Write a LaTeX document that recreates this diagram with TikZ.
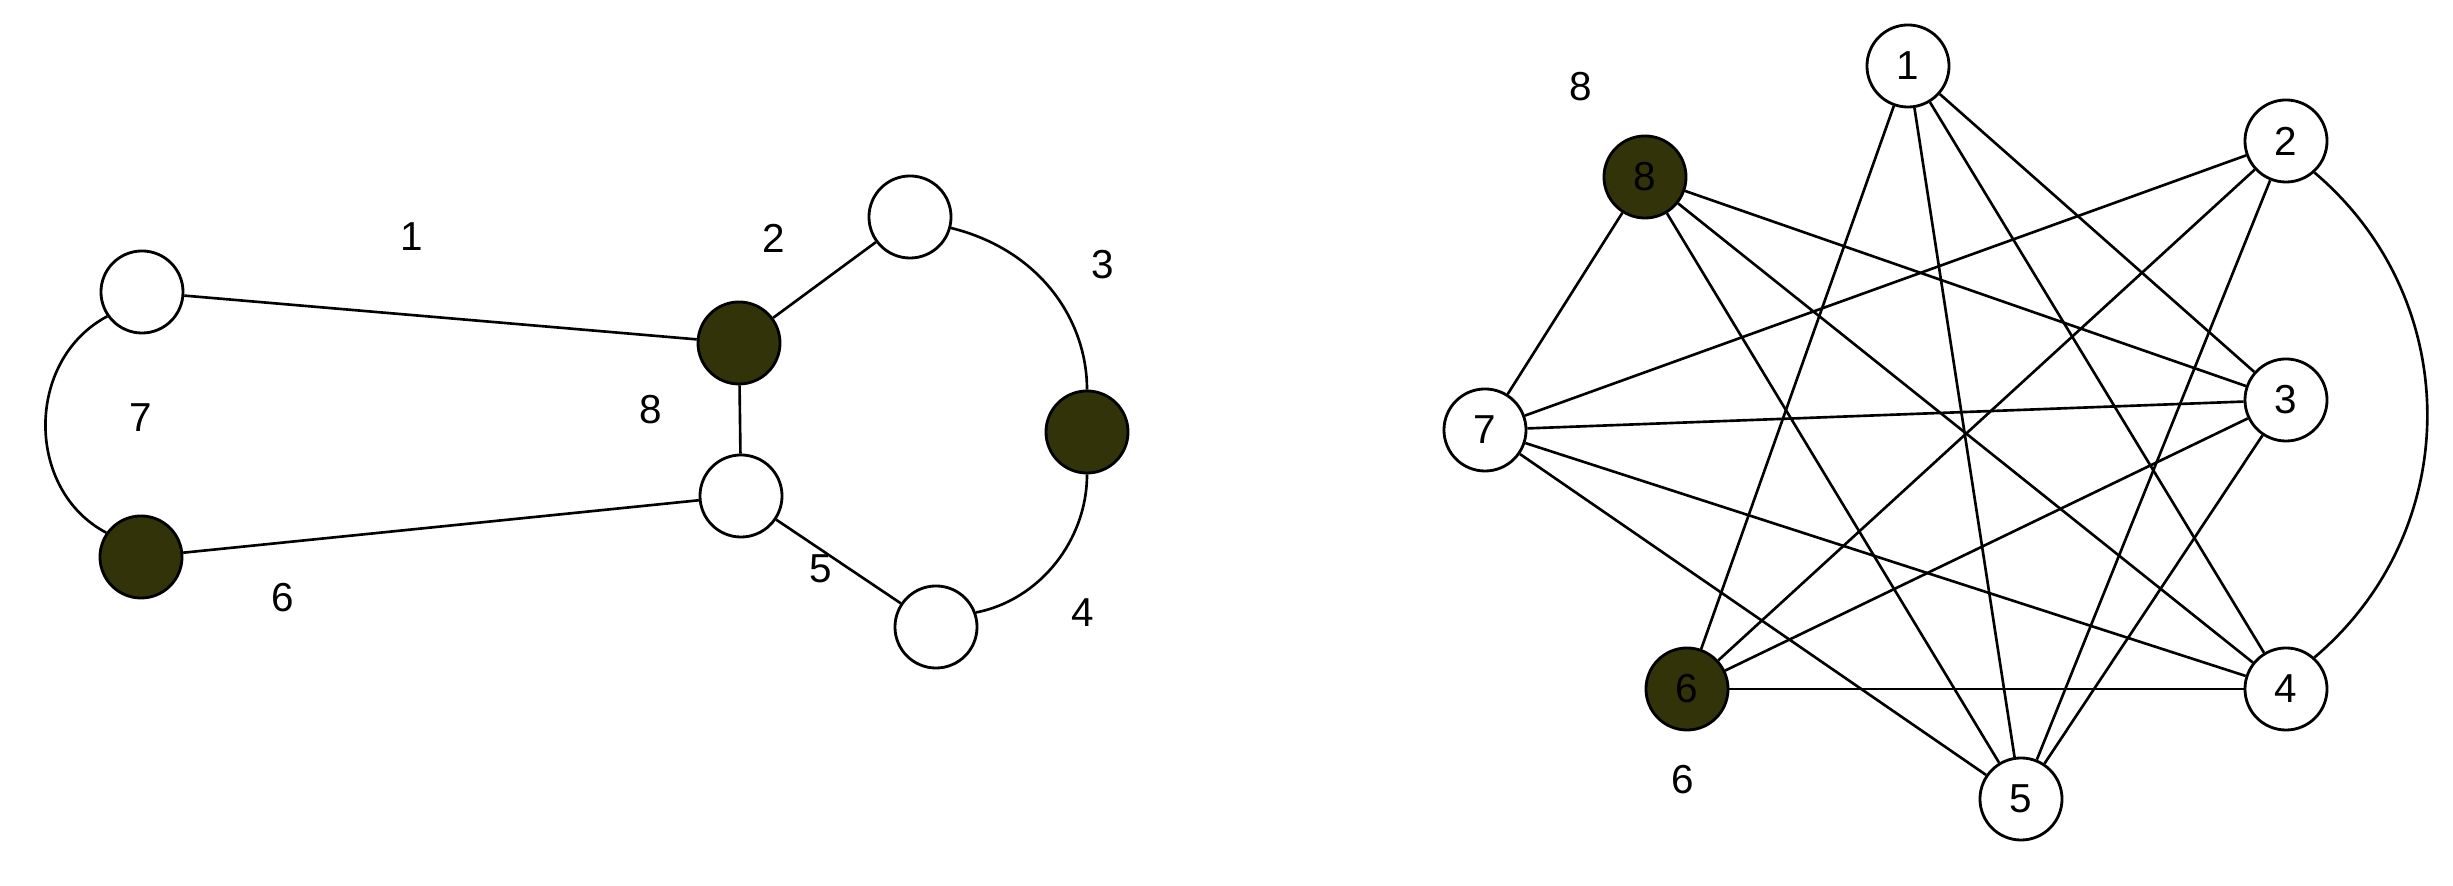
\documentclass[tikz,border=0pt]{standalone}
\usepackage{fontspec}
\setmainfont{Liberation Sans}
\definecolor{darkolive}{HTML}{33330A}
\begin{document}
\begin{tikzpicture}[x=0.01cm,y=-0.01cm,
  every node/.style={font=\fontsize{11.5}{13}\selectfont},
  vtx/.style={circle,draw,line width=0.8pt,minimum size=0.82cm,inner sep=0pt},
  filled/.style={vtx,fill=darkolive},
  edge/.style={line width=0.75pt},
  lbl/.style={inner sep=0pt}]
\useasboundingbox (0,0) rectangle (2453,886);
% left graph
\node[vtx] (L1) at (142,292) {};
\node[filled] (L8) at (739,343) {};
\node[vtx] (L2) at (910,217) {};
\node[filled] (L3) at (1087,432) {};
\node[vtx] (L5) at (741,496) {};
\node[vtx] (L4) at (936,627) {};
\node[filled] (L6) at (141,557) {};
\node[lbl] (t1) at (412,237) {1};
\node[lbl] (t2) at (774,238) {2};
\node[lbl] (t3) at (1103,265) {3};
\node[lbl] (t4) at (1083,613) {4};
\node[lbl] (t5) at (821,569) {5};
\node[lbl] (t6) at (283,598) {6};
\node[lbl] (t7) at (141,418) {7};
\node[lbl] (t8) at (651,410) {8};
\draw[edge] (L1) -- (L8);
\draw[edge] (L6) -- (L5);
\draw[edge] (L8) -- (L5);
\draw[edge] (L8) -- (L2);
\draw[edge] (L5) -- (L4);
\draw[edge] (L1.215) .. controls (25,360) and (25,490) .. (L6.145);
\draw[edge] (L2.-15) .. controls (1040,250) and (1087,320) .. (L3.north);
\draw[edge] (L3.south) .. controls (1087,540) and (1040,600) .. (L4.20);
% right graph
\node[vtx] (R1) at (1908,66) {1};
\node[vtx] (R2) at (2286,141) {2};
\node[filled] (R8) at (1645,177) {8};
\node[vtx] (R3) at (2286,400) {3};
\node[vtx] (R7) at (1485,430) {7};
\node[filled] (R6) at (1687,689) {6};
\node[vtx] (R4) at (2286,689) {4};
\node[vtx] (R5) at (2021,799) {5};
\node[lbl] (s8) at (1581,87) {8};
\node[lbl] (s6) at (1683,780) {6};
\foreach \a/\b in {R1/R3,R1/R4,R1/R5,R1/R6,R2/R5,R2/R6,R2/R7,R3/R5,R3/R6,R3/R7,R3/R8,R4/R6,R4/R7,R4/R8,R5/R7,R5/R8,R7/R8}
  \draw[edge] (\a) -- (\b);
\draw[edge] (R2.-48) .. controls (2465,300) and (2465,530) .. (R4.48);
\end{tikzpicture}
\end{document}
